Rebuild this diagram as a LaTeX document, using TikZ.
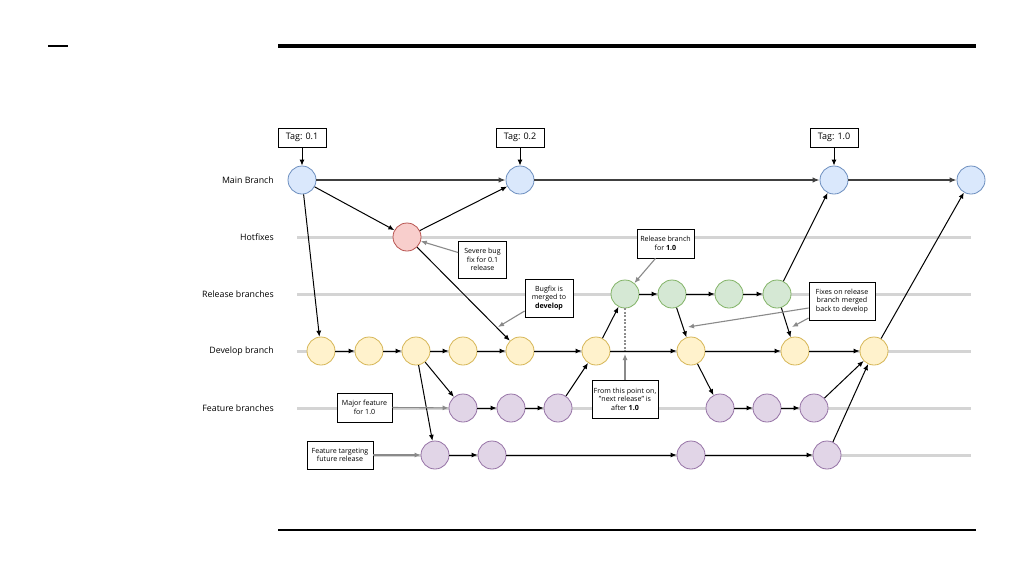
\documentclass[tikz,border=0pt]{standalone}
\usepackage{fontspec}
\setmainfont{Open Sans}
\usetikzlibrary{arrows.meta}
\definecolor{cblue}{HTML}{DAE8FC}\definecolor{sblue}{HTML}{6C8EBF}
\definecolor{cred}{HTML}{F8CECC}\definecolor{sred}{HTML}{B85450}
\definecolor{cgreen}{HTML}{D5E8D4}\definecolor{sgreen}{HTML}{82B366}
\definecolor{cyellow}{HTML}{FFF2CC}\definecolor{syellow}{HTML}{D6B656}
\definecolor{cpurple}{HTML}{E1D5E7}\definecolor{spurple}{HTML}{9673A6}
\definecolor{lanegray}{HTML}{D4D4D4}
\definecolor{ptrgray}{HTML}{8A8A8A}
\tikzset{
  commit/.style={circle, minimum size=28pt, inner sep=0pt, line width=0.8pt},
  cmain/.style={commit, fill=cblue, draw=sblue},
  chot/.style={commit, fill=cred, draw=sred},
  crel/.style={commit, fill=cgreen, draw=sgreen},
  cdev/.style={commit, fill=cyellow, draw=syellow},
  cfeat/.style={commit, fill=cpurple, draw=spurple},
  flow/.style={-{Latex[length=6pt,width=5pt]}, line width=1pt, black},
  mainflow/.style={-{Latex[length=7pt,width=5.5pt]}, line width=2pt, black!75},
  ptr/.style={-{Latex[length=6pt,width=5pt]}, line width=1.1pt, ptrgray},
  lane/.style={line width=3pt, lanegray},
  lanelabel/.style={anchor=east, font=\fontsize{8.8}{10}\selectfont, inner sep=0pt},
  note/.style={draw, line width=0.8pt, fill=white, font=\fontsize{7.1}{8.6}\selectfont, align=center, inner sep=1pt},
  tag/.style={draw, line width=0.8pt, fill=white, font=\fontsize{9}{10}\selectfont, minimum width=48pt, minimum height=19pt, inner sep=1pt}
}
\begin{document}
\begin{tikzpicture}[x=1pt,y=-1pt]
\useasboundingbox[fill=white] (0,0) rectangle (1024,576);
% decorative rules
\draw[line width=2pt] (48,46) -- (68,46);
\draw[line width=4pt] (278,46) -- (976,46);
\draw[line width=2pt] (278,530) -- (976,530);

% lane labels
\node[lanelabel] (lmain) at (274,180) {Main Branch};
\node[lanelabel] (lhot) at (274,237) {Hotfixes};
\node[lanelabel] (lrel) at (274,294) {Release branches};
\node[lanelabel] (ldev) at (274,351) {Develop branch};
\node[lanelabel] (lfeat) at (274,408) {Feature branches};

% lanes
\draw[lane] (297,237) -- (971,237);
\draw[lane] (297,294) -- (971,294);
\draw[lane] (297,351) -- (971,351);
\draw[lane] (297,408) -- (971,408);
\draw[lane] (373,455) -- (971,455);

% main commits
\node[cmain] (m1) at (302,180) {};
\node[cmain] (m2) at (520,180) {};
\node[cmain] (m3) at (834,180) {};
\node[cmain] (m4) at (971,180) {};
% hotfix
\node[chot] (h1) at (407,237) {};
% release
\node[crel] (r1) at (625,294) {};
\node[crel] (r2) at (672,294) {};
\node[crel] (r3) at (729,294) {};
\node[crel] (r4) at (777,294) {};
% develop
\node[cdev] (d1) at (321,351) {};
\node[cdev] (d2) at (369,351) {};
\node[cdev] (d3) at (416,351) {};
\node[cdev] (d4) at (463,351) {};
\node[cdev] (d5) at (520,351) {};
\node[cdev] (d6) at (596,351) {};
\node[cdev] (d7) at (691,351) {};
\node[cdev] (d8) at (795,351) {};
\node[cdev] (d9) at (874,351) {};
% feature lane 1
\node[cfeat] (fb1) at (463,408) {};
\node[cfeat] (fb2) at (511,408) {};
\node[cfeat] (fb3) at (558,408) {};
\node[cfeat] (fb4) at (720,408) {};
\node[cfeat] (fb5) at (767,408) {};
\node[cfeat] (fb6) at (814,408) {};
% feature lane 2
\node[cfeat] (fc1) at (435,455) {};
\node[cfeat] (fc2) at (492,455) {};
\node[cfeat] (fc3) at (691,455) {};
\node[cfeat] (fc4) at (827,455) {};

% tags
\node[tag] (t1) at (302,137.5) {Tag: 0.1};
\node[tag] (t2) at (520,137.5) {Tag: 0.2};
\node[tag] (t3) at (834,137.5) {Tag: 1.0};
\draw[flow] (t1) -- (m1);
\draw[flow] (t2) -- (m2);
\draw[flow] (t3) -- (m3);

% main flow
\draw[mainflow] (m1) -- (m2);
\draw[mainflow] (m2) -- (m3);
\draw[mainflow] (m3) -- (m4);

% hotfix
\draw[flow] (m1) -- (h1);
\draw[flow] (h1) -- (m2);
\draw[flow] (h1) -- (d5);
\draw[flow] (m1) -- (d1);

% develop
\draw[flow] (d1) -- (d2);
\draw[flow] (d2) -- (d3);
\draw[flow] (d3) -- (d4);
\draw[flow] (d4) -- (d5);
\draw[flow] (d5) -- (d6);
\draw[flow] (d6) -- (d7);
\draw[flow] (d7) -- (d8);
\draw[flow] (d8) -- (d9);

% release
\draw[flow] (d6) -- (r1);
\draw[flow] (r1) -- (r2);
\draw[flow] (r2) -- (r3);
\draw[flow] (r3) -- (r4);
\draw[flow] (r2) -- (d7);
\draw[flow] (r4) -- (d8);
\draw[flow] (r4) -- (m3);
\draw[flow] (d9) -- (m4);

% features
\draw[flow] (d3) -- (fb1);
\draw[flow] (d3) -- (fc1);
\draw[flow] (fb1) -- (fb2);
\draw[flow] (fb2) -- (fb3);
\draw[flow] (fb3) -- (d6);
\draw[flow] (d7) -- (fb4);
\draw[flow] (fb4) -- (fb5);
\draw[flow] (fb5) -- (fb6);
\draw[flow] (fb6) -- (d9);
\draw[flow] (fc1) -- (fc2);
\draw[flow] (fc2) -- (fc3);
\draw[flow] (fc3) -- (fc4);
\draw[flow] (fc4) -- (d9);

% dotted marker
\coordinate (dotend) at (625,351);
\draw[dash pattern=on 2pt off 1.5pt, line width=1.5pt, black!45] (r1.south) -- (dotend);

% notes
\node[note, minimum width=48pt, minimum height=37pt] (sev) at (482.5,259.5) {Severe bug\\fix for 0.1\\release};
\node[note, minimum width=48pt, minimum height=38pt] (bug) at (549,298) {Bugfix is\\merged to\\\textbf{develop}};
\node[note, minimum width=57pt, minimum height=29pt] (rel) at (665.5,243.5) {Release branch\\for \textbf{1.0}};
\node[note, minimum width=66pt, minimum height=38pt] (fix) at (842,301) {Fixes on release\\branch merged\\back to develop};
\node[note, minimum width=66pt, minimum height=38pt] (fro) at (625,399) {From this point on,\\"next release" is\\after \textbf{1.0}};
\node[note, minimum width=55pt, minimum height=29pt] (maj) at (364.5,407.5) {Major feature\\for 1.0};
\node[note, minimum width=66pt, minimum height=28pt] (fut) at (340,455) {Feature targeting\\future release};

\coordinate (bugtip) at (498,327);
\coordinate (fixtipA) at (688,327);
\coordinate (fixtipB) at (792,327);
\coordinate (frotip) at (625,354);

\draw[ptr] ([yshift=7pt]sev.west) -- (h1);
\draw[ptr] ([yshift=-13pt]bug.west) -- (bugtip);
\draw[ptr] ([xshift=-10pt]rel.south) -- (r1);
\draw[ptr] ([yshift=-7pt]fix.west) -- (fixtipA);
\draw[ptr] ([yshift=-17pt]fix.west) -- (fixtipB);
\draw[ptr] (fro.north) -- (frotip);
\draw[ptr] (maj.east) -- (fb1);
\draw[ptr] (fut.east) -- (fc1);
\end{tikzpicture}
\end{document}
